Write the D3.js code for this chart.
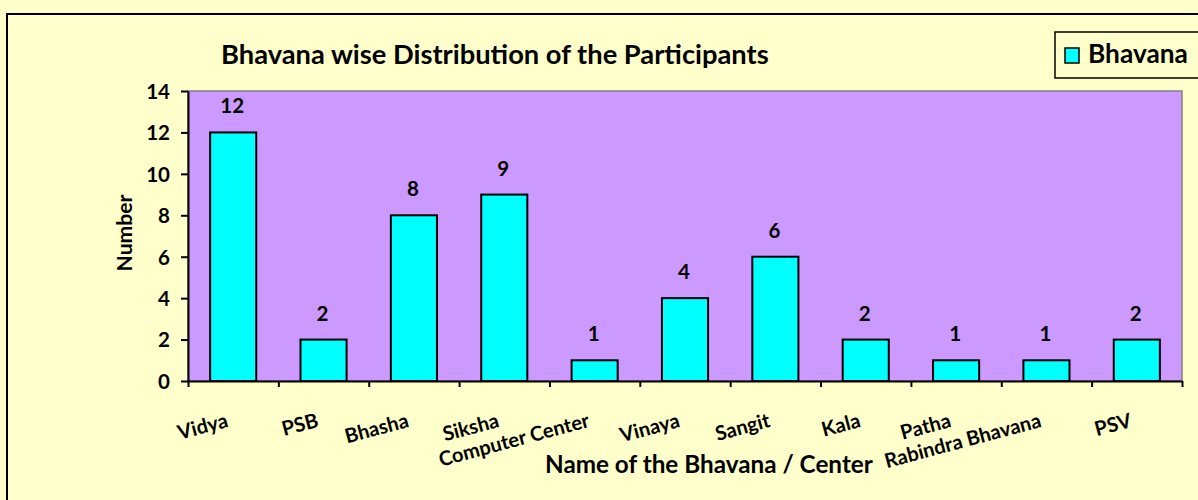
<!DOCTYPE html>
<html><head><meta charset="utf-8">
<script src="https://cdn.jsdelivr.net/npm/d3@7"></script>
<style>html,body{margin:0;padding:0;background:#FFFFCC;} svg{display:block;} text{font-family:Lato,"Open Sans",sans-serif;font-weight:bold;fill:#000;}</style>
</head><body>
<svg id="c" width="1198" height="500"></svg>
<script>
const categories = ["Vidya","PSB","Bhasha","Siksha","Computer Center","Vinaya","Sangit","Kala","Patha","Rabindra Bhavana","PSV"];
const values = [12,2,8,9,1,4,6,2,1,1,2];
const yTicks = [0,2,4,6,8,10,12,14];
const seriesName = "Bhavana";
const chartTitle = "Bhavana wise Distribution of the Participants";
const xTitle = "Name of the Bhavana / Center";
const yTitle = "Number";

const svg = d3.select("#c");
const W = 1198, H = 500;
const m = {left:188, top:91, right:1182, bottom:381};

function fit(sel, target){
  let fs = parseFloat(sel.style("font-size"));
  const w = sel.node().getComputedTextLength();
  sel.style("font-size", (fs*target/w).toFixed(2)+"px");
}

svg.append("rect").attr("width",W).attr("height",H).attr("fill","#FFFFCC");
svg.append("rect").attr("x",7).attr("y",14).attr("width",1200).attr("height",500)
  .attr("fill","none").attr("stroke","#000").attr("stroke-width",2);

const x = d3.scaleBand().domain(categories).range([m.left,m.right]).paddingInner(0.49).paddingOuter(0.245);
const xi = d3.scaleLinear().domain([0,categories.length]).range([m.left,m.right]);
const y = d3.scaleLinear().domain([0,14]).range([m.bottom,m.top]);

svg.append("rect").attr("x",m.left).attr("y",m.top).attr("width",m.right-m.left).attr("height",m.bottom-m.top)
  .attr("fill","#CC99FF").attr("stroke","#808080").attr("stroke-width",1.5);

svg.selectAll("rect.bar").data(values).join("rect").attr("class","bar")
  .attr("x",(d,i)=>x(categories[i])).attr("width",x.bandwidth())
  .attr("y",d=>y(d)).attr("height",d=>y(0)-y(d))
  .attr("fill","#00FFFF").attr("stroke","#000").attr("stroke-width",2);

svg.selectAll("text.val").data(values).join("text").attr("class","val")
  .attr("x",(d,i)=>x(categories[i])+x.bandwidth()/2-1).attr("y",d=>y(d)-19)
  .attr("text-anchor","middle").style("font-size","20.5px").text(d=>d);

// y axis
const ya = svg.append("g").attr("transform",`translate(${m.left},0)`)
  .call(d3.axisLeft(y).tickValues(yTicks).tickSize(7).tickSizeOuter(0).tickPadding(11));
ya.select(".domain").attr("stroke","#000").attr("stroke-width",2);
ya.selectAll(".tick line").attr("stroke","#000").attr("stroke-width",2);
ya.selectAll(".tick text").style("font-size","20.5px").style("font-family","Lato").style("font-weight","bold").attr("dy","0.36em");

// x axis
const xa = svg.append("g").attr("transform",`translate(0,${m.bottom})`)
  .call(d3.axisBottom(xi).tickValues(d3.range(categories.length+1)).tickSize(6).tickSizeOuter(0).tickFormat(""));
xa.select(".domain").attr("stroke","#000").attr("stroke-width",2);
xa.selectAll(".tick line").attr("stroke","#000").attr("stroke-width",2);

// x labels
const xl = svg.selectAll("text.xl").data(categories).join("text").attr("class","xl")
  .attr("text-anchor","end")
  .attr("transform",d=>`translate(${x(d)+x.bandwidth()/2-8},${412}) rotate(-15)`)
  .attr("dy","0.75em").style("font-size","17px").text(d=>d);
{
  const n = xl.filter(d=>d==="Computer Center");
  fit(n,155);
  const fs = n.style("font-size");
  xl.style("font-size",fs);
}

// titles
const t = svg.append("text").attr("x",221).attr("y",64).style("font-size","24px").text(chartTitle);
fit(t,548);
const xt = svg.append("text").attr("x",545).attr("y",473).style("font-size","22px").text(xTitle);
fit(xt,328);
const yt = svg.append("text").attr("transform","translate(132,233) rotate(-90)").attr("text-anchor","middle").style("font-size","18px").text(yTitle);
fit(yt,77);

// legend
svg.append("rect").attr("x",1055).attr("y",32).attr("width",160).attr("height",46)
  .attr("fill","#FFFFCC").attr("stroke","#000").attr("stroke-width",1.5);
svg.append("rect").attr("x",1065).attr("y",48).attr("width",14).attr("height",15)
  .attr("fill","#00FFFF").attr("stroke","#000").attr("stroke-width",1.5);
const lt = svg.append("text").attr("x",1088).attr("y",63).style("font-size","20px").text(seriesName);
fit(lt,100);
</script>
</body></html>
